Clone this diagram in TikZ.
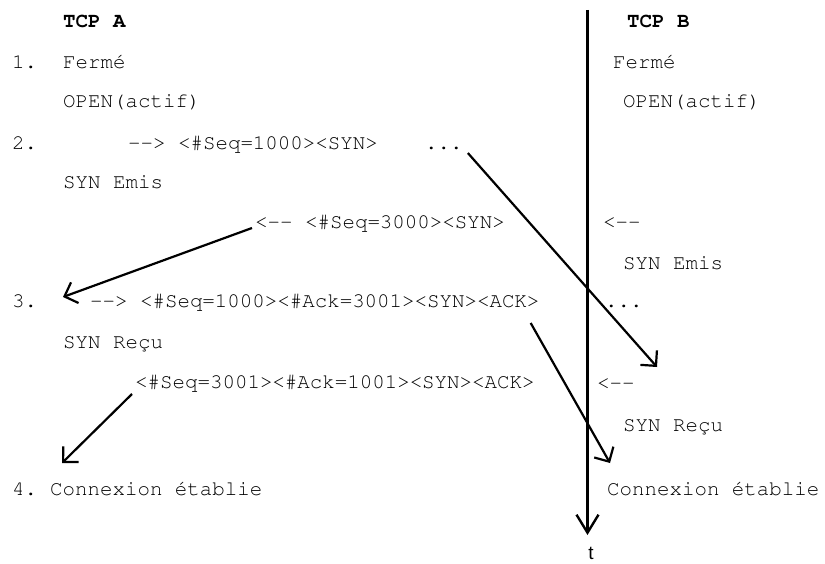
\documentclass[tikz,border=0pt]{standalone}
\usepackage{fontspec}
\setsansfont{Liberation Sans}
\usetikzlibrary{arrows.meta}

\begin{document}
\begin{tikzpicture}[
  x=1pt, y=-1pt,
  txt/.style={anchor=base west, inner sep=0pt, font=\fontencoding{T1}\fontfamily{pcr}\fontsize{20.8}{25}\selectfont},
  head/.style={txt, font=\fontencoding{T1}\fontfamily{pcr}\fontsize{20.8}{25}\selectfont\bfseries},
  msg/.style={-{Straight Barb[length=11pt, width=22pt]}, line width=2.2pt},
  axis/.style={-{Straight Barb[length=18pt, width=22pt]}, line width=2.4pt}
]
\useasboundingbox (0,0) rectangle (825,564);

% headers
\node[head] (tcpa) at (63,28) {TCP A};
\node[head] (tcpb) at (627,28) {TCP B};

% side A
\node[txt] (n1) at (12,69) {1.};
\node[txt] (fermeA) at (63,69) {Fermé};
\node[txt] (openA) at (63,108) {OPEN(actif)};
\node[txt] (n2) at (12,150) {2.};
\node[txt] (synA) at (128,150) {-{}-> <\#Seq=1000><SYN>};
\node[txt] (dotsA) at (425,150) {...};
\node[txt] (emisA) at (63,189) {SYN Emis};
\node[txt] (synB) at (255,229) {<-{}- <\#Seq=3000><SYN>};
\node[txt] (n3) at (12,308) {3.};
\node[txt] (synackA) at (90,308) {-{}-> <\#Seq=1000><\#Ack=3001><SYN><ACK>};
\node[txt] (recuA) at (63,348) {SYN Reçu};
\node[txt] (synackB) at (135,388) {<\#Seq=3001><\#Ack=1001><SYN><ACK>};
\node[txt] (n4) at (12,495) {4.};
\node[txt] (etabA) at (50,495) {Connexion établie};

% side B
\node[txt] (fermeB) at (613,69) {Fermé};
\node[txt] (openB) at (623,108) {OPEN(actif)};
\node[txt] (backB1) at (603,229) {<-{}-};
\node[txt] (emisB) at (623,270) {SYN Emis};
\node[txt] (dotsB) at (605,308) {...};
\node[txt] (backB2) at (597,389) {<-{}-};
\node[txt] (recuB) at (623,431) {SYN Reçu};
\node[txt] (etabB) at (607,495) {Connexion établie};

% time axis
\coordinate (ttop) at (587.5,10);
\coordinate (tbot) at (587.5,535);
\node[anchor=base, inner sep=0pt, font=\fontsize{19}{21}\selectfont\sffamily] (tlab) at (591,559) {t};
\draw[axis] (ttop) -- (tbot);

% segments
\coordinate (tipB1) at (657,367);
\coordinate (tipA1) at (63,297);
\coordinate (tipB2) at (610,463);
\coordinate (tipA2) at (62,463);
\draw[msg] ([shift={(5,3)}]dotsA.base east) -- (tipB1);
\draw[msg] ([shift={(-3,-1)}]synB.base west) -- (tipA1);
\draw[msg] ([shift={(-9,15)}]synackA.base east) -- (tipB2);
\draw[msg] ([shift={(-3,6)}]synackB.base west) -- (tipA2);
\end{tikzpicture}
\end{document}
